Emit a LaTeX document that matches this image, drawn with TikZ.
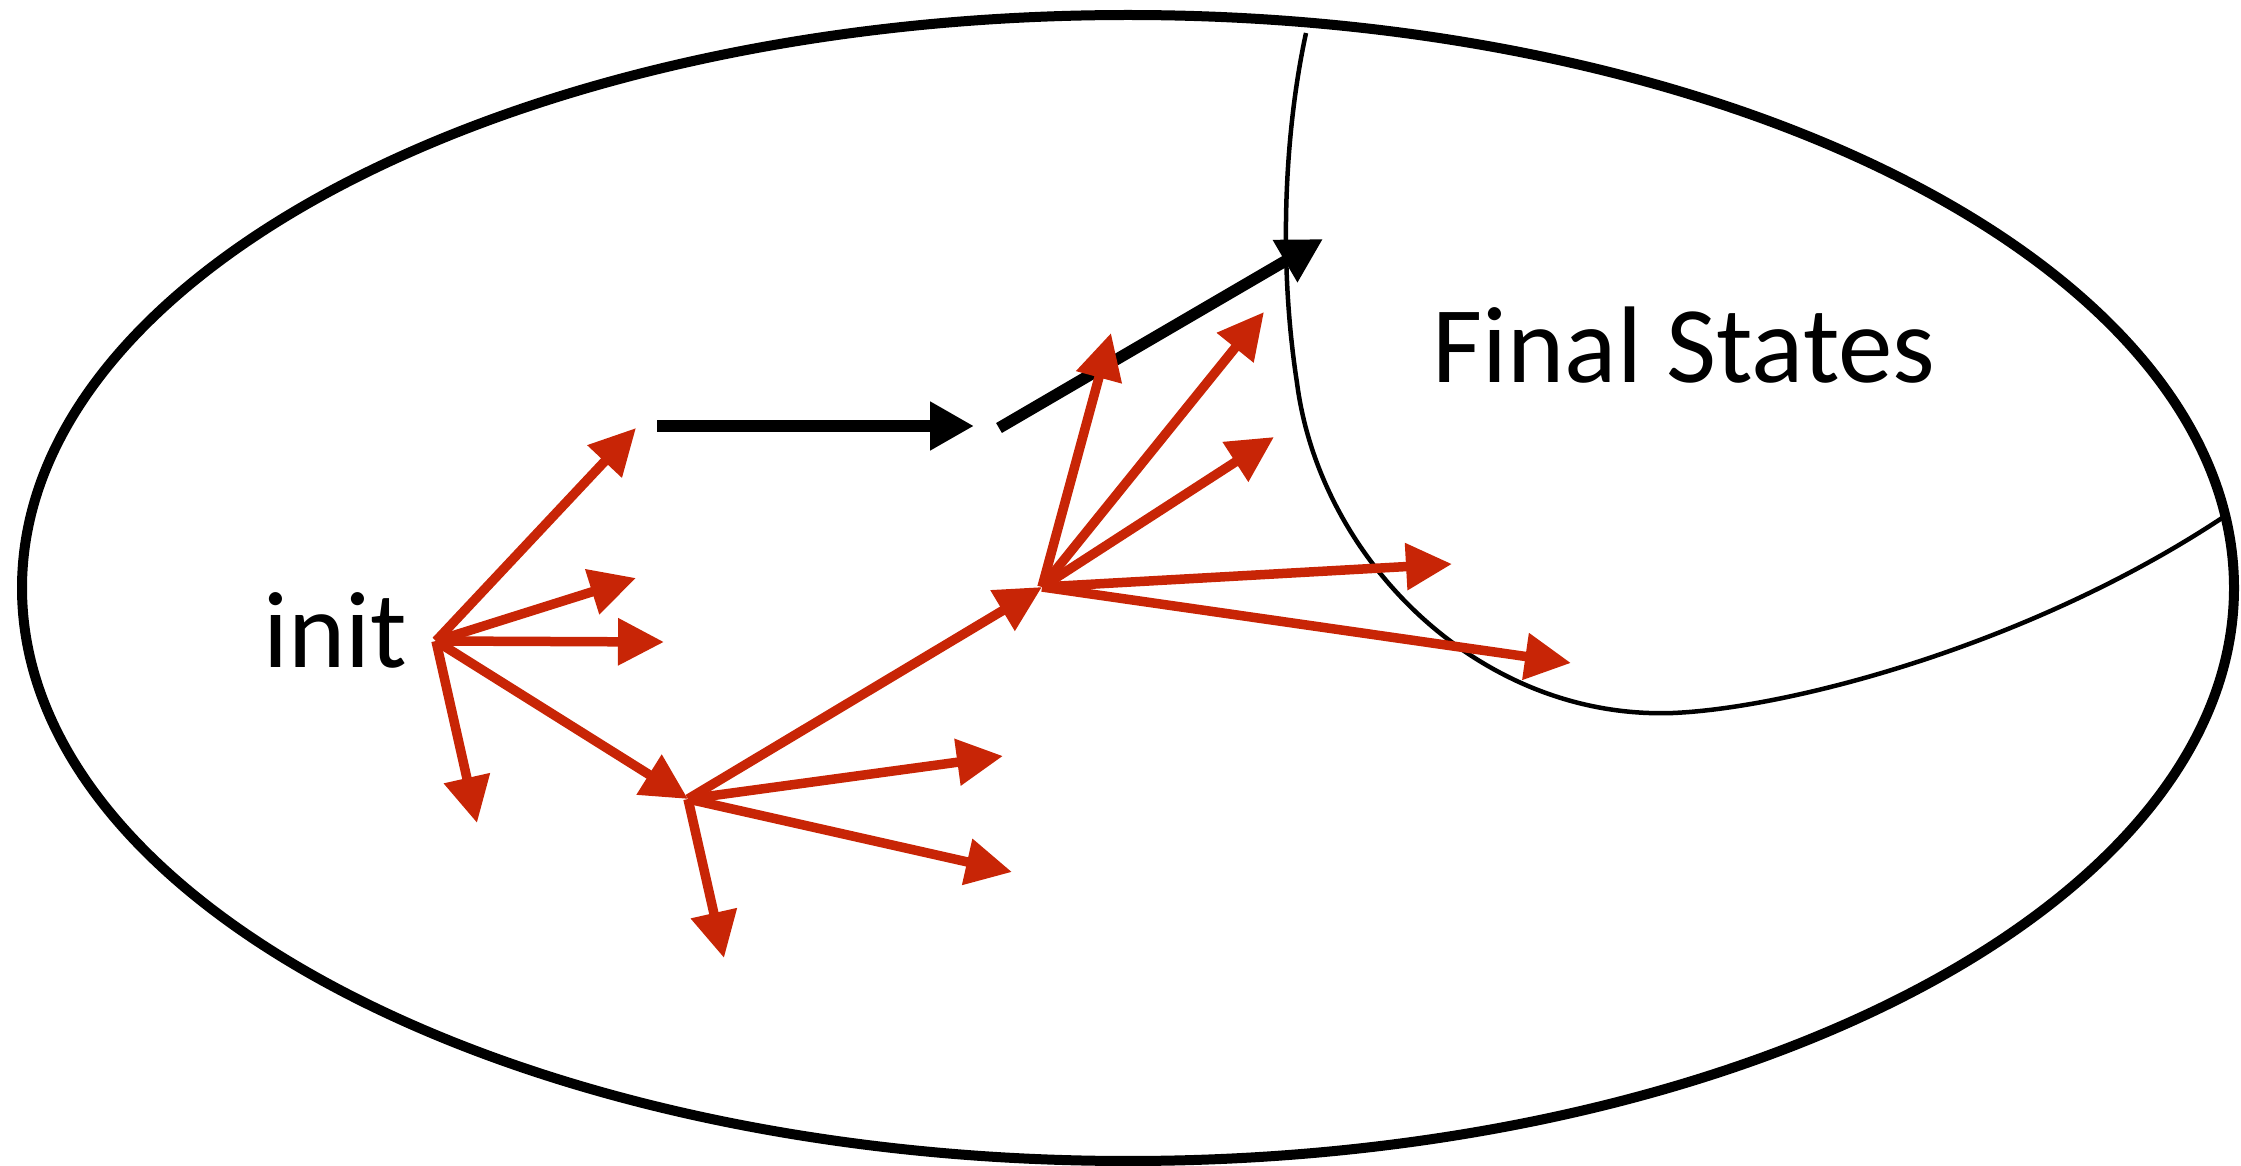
\documentclass[tikz,border=0pt]{standalone}
\usepackage{fontspec}
\setmainfont{Carlito}
\usetikzlibrary{arrows.meta}

\definecolor{statered}{RGB}{200,37,6}

\begin{document}
\begin{tikzpicture}[x=0.1mm, y=-0.1mm,
    move/.style={-{Triangle[length=4.6mm, width=4.5mm]}, line width=0.95mm, statered},
    run/.style={-{Triangle[length=4.4mm, width=4.6mm]}, line width=1.15mm},
    statename/.style={font=\fontsize{31}{37}\selectfont, anchor=base, inner sep=0pt}]
    \useasboundingbox (0,0) rectangle (2241,1166);

    \draw[line width=1mm] (1128,588) ellipse [x radius=110.6mm, y radius=57.3mm];
    \draw[line width=0.45mm] (1306,33) .. controls (1285,130) and (1278,260) .. (1297,383)
        .. controls (1320,560) and (1480,720) .. (1673,713)
        .. controls (1790,708) and (2030,645) .. (2222,518);

    \node[statename] (init) at (335,668) {init};
    \node[statename] (final) at (1684,383) {Final States};

    \coordinate (s0) at (436,641);
    \coordinate (s1) at (688,799);
    \coordinate (s2) at (1042,587);

    \coordinate (a1) at (636,428);
    \coordinate (a2) at (636,578);
    \coordinate (a3) at (664,642);
    \coordinate (a4) at (477,823);

    \coordinate (b1) at (1003,756);
    \coordinate (b2) at (1012,872);
    \coordinate (b3) at (724,958);

    \coordinate (c1) at (1111,333);
    \coordinate (c2) at (1264,312);
    \coordinate (c3) at (1274,437);
    \coordinate (c4) at (1452,564);
    \coordinate (c5) at (1571,663);

    \coordinate (r0) at (657,426);
    \coordinate (r1) at (974,426);
    \coordinate (r2) at (999,428);
    \coordinate (r3) at (1323,239);

    \draw[run] (r0) -- (r1);
    \draw[run] (r2) -- (r3);

    \foreach \t in {a1,a2,a3,a4,s1}
        \draw[move] (s0) -- (\t);
    \foreach \t in {b1,b2,b3,s2}
        \draw[move] (s1) -- (\t);
    \foreach \t in {c1,c2,c3,c4,c5}
        \draw[move] (s2) -- (\t);
\end{tikzpicture}
\end{document}
